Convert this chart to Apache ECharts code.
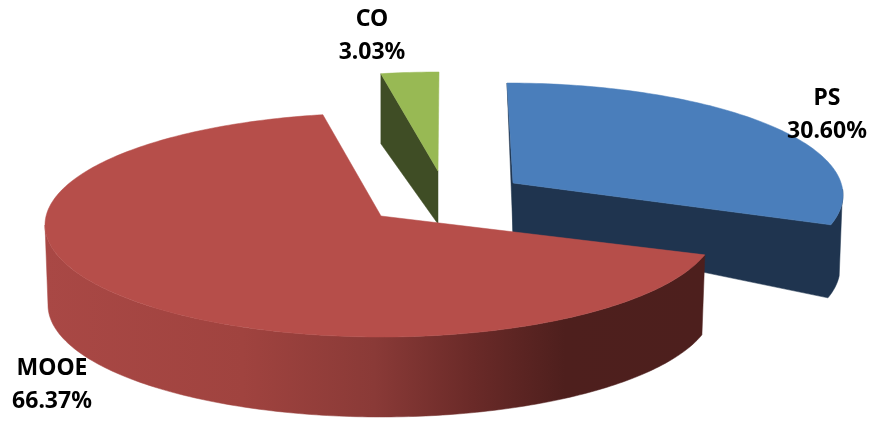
<!DOCTYPE html>
<html>
<head>
<meta charset="utf-8">
<style>html,body{margin:0;padding:0;background:#fff}#chart{width:870px;height:421px}</style>
<script src="https://cdn.jsdelivr.net/npm/echarts@6/dist/echarts.min.js"></script>
</head>
<body>
<div id="chart"></div>
<script>
var categories = ['PS', 'MOOE', 'CO'];
var shares = [30.60, 66.37, 3.03];

// Drawing geometry (style only): one entry per slice
var ellipseCentres = [[507, 195], [381, 225], [439, 184]];
var apexes = [[513, 183], [381, 216], [438, 171]];
var labelCentres = [[827, 115], [52, 385], [372, 36]];
var wallDepths = [73, 80, 70];
var topColours = ['#4A7EBB', '#B64E4A', '#98B954'];
var wallColours = ['#1F344F', '#4D1F1D', '#3F4D25'];
var RX = 336, RY = 112, RX_BOTTOM = 333;
var drawOrder = [2, 0, 1];

var total = shares.reduce(function (a, b) { return a + b; }, 0);
function sliceAngles(i) {
  var before = 0;
  for (var k = 0; k < i; k++) before += shares[k];
  return [-90 + before / total * 360, -90 + (before + shares[i]) / total * 360];
}
// slight perspective warp of the pie's angle
function warp(t) { return t - 5 * Math.cos(t * Math.PI / 180); }
function rimPoint(c, t, depth) {
  var r = t * Math.PI / 180;
  return [c[0] + (depth ? RX_BOTTOM : RX) * Math.cos(r),
          c[1] + (depth || 0) + RY * Math.sin(r)];
}
function arc(c, a, b, depth) {
  var pts = [], n = Math.max(2, Math.ceil(Math.abs(b - a)));
  for (var j = 0; j <= n; j++) pts.push(rimPoint(c, a + (b - a) * j / n, depth));
  return pts;
}
function poly(points, fill) {
  return { type: 'polygon', shape: { points: points }, style: { fill: fill, stroke: fill, lineWidth: 0.5 } };
}
var redWall = {
  type: 'linear', x: 45, y: 0, x2: 703, y2: 0, global: true,
  colorStops: [
    { offset: 0, color: '#A94845' }, { offset: 0.3, color: '#A0433F' },
    { offset: 0.5, color: '#8A3A37' }, { offset: 0.65, color: '#6A2A28' },
    { offset: 0.79, color: '#4E1F1D' }, { offset: 1, color: '#4D1F1D' }
  ]
};

function renderItem(params, api) {
  var i = drawOrder[params.dataIndex];
  var ang = sliceAngles(i);
  var a = warp(ang[0]), b = warp(ang[1]);
  var c = ellipseCentres[i], apex = apexes[i], depth = wallDepths[i];
  var children = [];
  var startTop = rimPoint(c, a);
  var apexLow = [apex[0], apex[1] + (i === 0 ? 50 : 53)];

  if (i === 2) { // CO: its left cut faces the viewer
    var startLow = [startTop[0], startTop[1] + depth];
    children.push(poly([startTop, apex, apexLow, startLow], wallColours[i]));
  } else if (i === 0) { // PS: end cut and outer wall in one shape, plus thin start cut
    children.push(poly([apex].concat(arc(c, b, -3), arc(c, 4, b, depth), [apexLow]), wallColours[i]));
    children.push(poly([startTop, apex, apexLow], wallColours[i]));
  } else { // MOOE: outer wall only, from its end cut to the left extreme
    children.push(poly(arc(c, a, 180).concat(arc(c, 180, a, depth)), redWall));
  }
  children.push(poly([apex].concat(arc(c, a, b)), topColours[i]));
  children.push({
    type: 'text',
    z2: 10,
    style: {
      x: labelCentres[i][0], y: labelCentres[i][1],
      text: categories[i] + '\n' + shares[i].toFixed(2) + '%',
      align: 'center', verticalAlign: 'middle',
      font: 'bold 23px "Noto Sans"', lineHeight: 33, fill: '#000'
    }
  });
  return { type: 'group', children: children };
}

var chart = echarts.init(document.getElementById('chart'), null, { renderer: 'canvas' });
chart.setOption({
  animation: false,
  backgroundColor: '#fff',
  series: [{
    type: 'custom',
    coordinateSystem: 'none',
    renderItem: renderItem,
    data: drawOrder.map(function (i) { return { name: categories[i], value: shares[i] }; })
  }]
});
</script>
</body>
</html>
